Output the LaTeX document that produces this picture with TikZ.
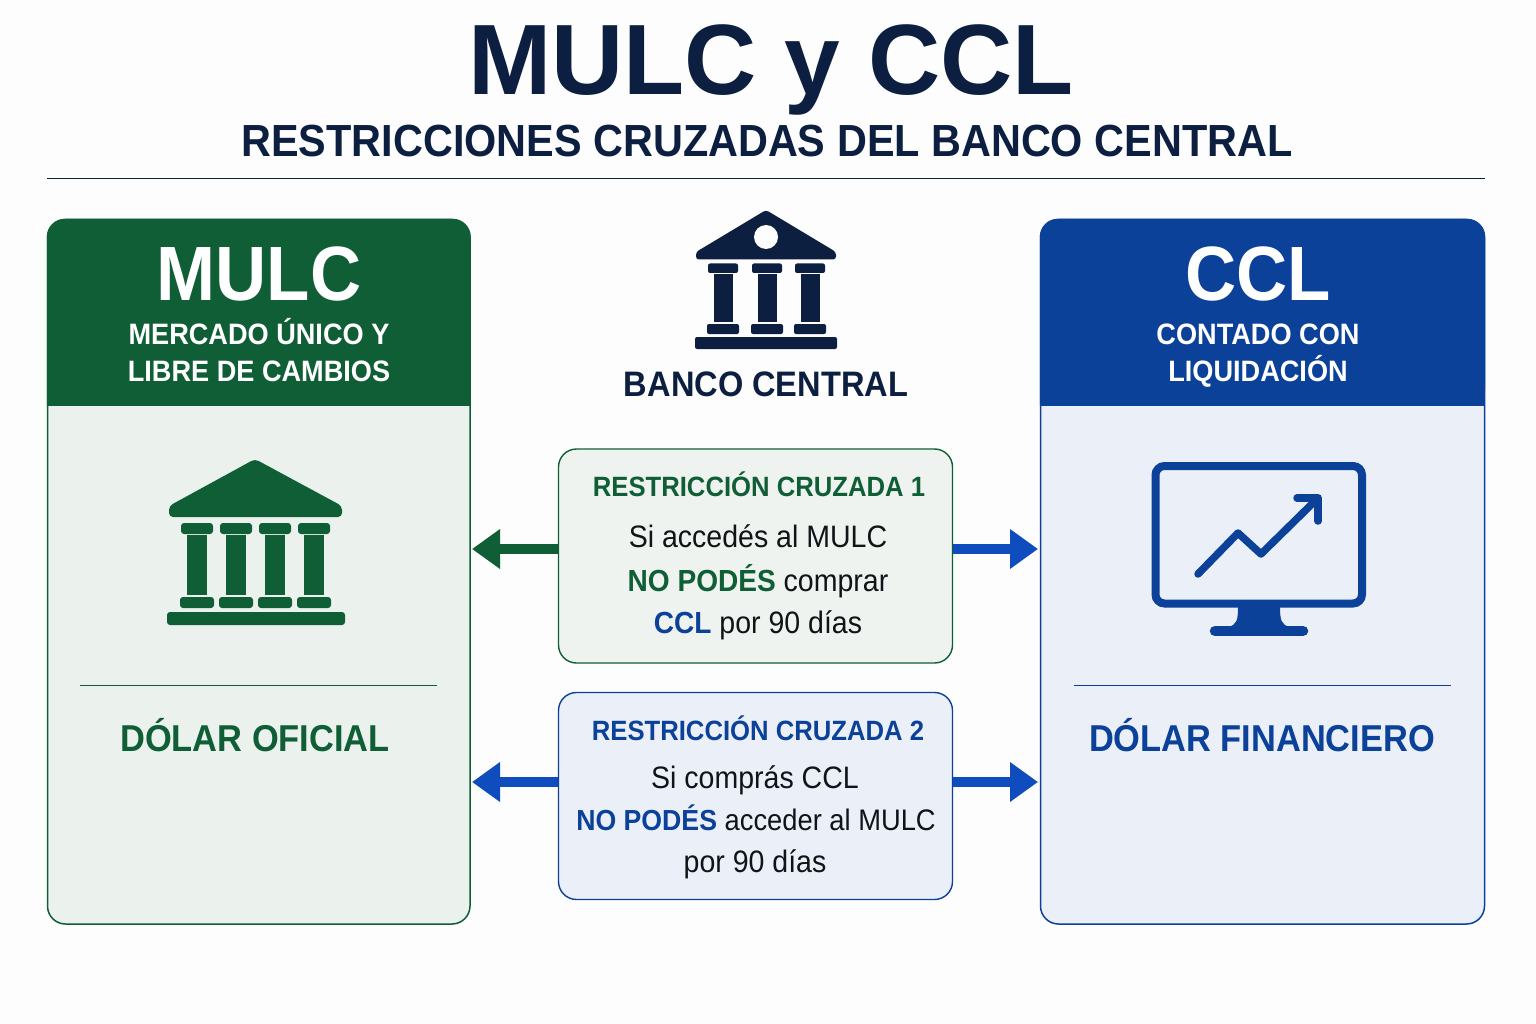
\documentclass[tikz,border=0pt]{standalone}
\usepackage{fontspec}
\setmainfont[FakeStretch=0.92]{Liberation Sans}
\newfontfamily\titlefont{Liberation Sans}
\usetikzlibrary{arrows.meta,calc}
\definecolor{navy}{HTML}{0C1F40}
\definecolor{grn}{HTML}{0F5E36}
\definecolor{blu}{HTML}{0B4199}
\definecolor{arrblu}{HTML}{0F4DBE}
\definecolor{grnbg}{HTML}{EBF2EE}
\definecolor{blubg}{HTML}{EAEFF8}
\definecolor{boxg}{HTML}{EEF3EF}
\definecolor{ink}{HTML}{111417}
\definecolor{paper}{HTML}{FDFDFD}
\newcommand{\fs}[1]{\fontsize{#1}{#1}\selectfont}
\newcommand{\bfg}[1]{{\bfseries\color{grn}#1}}
\newcommand{\bfb}[1]{{\bfseries\color{blu}#1}}
\tikzset{
 x=1pt,y=-1pt,
 txt/.style={inner sep=0pt,align=center,anchor=base},
 panelg/.style={draw=grn,line width=1.5pt,fill=grnbg,rounded corners=18pt},
 panelb/.style={draw=blu,line width=1.5pt,fill=blubg,rounded corners=18pt},
 rbox/.style={rounded corners=18pt,line width=1.4pt,minimum width=394pt,inner sep=0pt},
 arrowg/.style={draw=grn,line width=10pt,-{Triangle[length=28pt,width=38pt]}},
 arrowb/.style={draw=arrblu,line width=10pt,-{Triangle[length=28pt,width=38pt]}},
 bodytxt/.style={txt,font=\fs{31},text=ink},
 headtxt/.style={txt,text=white,font=\fs{29.5}\bfseries},
 bigtxt/.style={txt,text=white,font=\fs{77}\bfseries},
 rtitle/.style={txt,font=\fs{27.9}\bfseries},
}
\begin{document}
\begin{tikzpicture}
\useasboundingbox (0,0) rectangle (1536,1024);
\fill[paper] (0,0) rectangle (1536,1024);

% title
\node[txt,text=navy,font=\fs{100}\titlefont\bfseries] (title) at (771,95) {MULC y CCL};
\node[txt,text=navy,font=\fs{45}\bfseries] (subtitle) at (767,157) {RESTRICCIONES CRUZADAS DEL BANCO CENTRAL};
\draw[navy,line width=1.8pt] (47,178.5) -- (1485,178.5);

% left panel
\path[panelg] (47.5,219.5) rectangle (470,924);
\fill[grn,rounded corners=18pt] (46.8,405.5) -- (46.8,218.8) -- (470.7,218.8) -- (470.7,405.5) [sharp corners] -- cycle;
\fill[grn] (46.8,300) rectangle (470.7,405.5);
\node[bigtxt] (mulcT) at (259,300) {MULC};
\node[headtxt] (mulcA) at (259,344) {MERCADO ÚNICO Y};
\node[headtxt] (mulcB) at (259,381) {LIBRE DE CAMBIOS};
\draw[grn,line width=1.8pt] (80,685.5) -- (437,685.5);
\node[txt,text=grn,font=\fs{37.4}\bfseries] (dof) at (255,751) {DÓLAR OFICIAL};

% right panel
\path[panelb] (1040.5,219.5) rectangle (1484.5,924);
\fill[blu,rounded corners=18pt] (1039.8,405.5) -- (1039.8,218.8) -- (1485.2,218.8) -- (1485.2,405.5) [sharp corners] -- cycle;
\fill[blu] (1039.8,300) rectangle (1485.2,405.5);
\node[bigtxt] (cclT) at (1258,300) {CCL};
\node[headtxt] (cclA) at (1258,344) {CONTADO CON};
\node[headtxt] (cclB) at (1258,381) {LIQUIDACIÓN};
\draw[blu,line width=1.8pt] (1074,685.5) -- (1451,685.5);
\node[txt,text=blu,font=\fs{37.4}\bfseries] (dfi) at (1262,751) {DÓLAR FINANCIERO};

% central bank icon
\begin{scope}[navy]
\fill[rounded corners=3pt] (766,210) -- (836,252) -- (836,259.5) -- (696,259.5) -- (696,252) -- cycle;
\fill[paper] (766,237) circle (12);
\foreach \c in {723,767,810}{
 \fill[rounded corners=2pt] (\c-15,263.5) rectangle (\c+15,273);
 \fill (\c-9.5,274.5) rectangle (\c+9.5,321.5);
 \fill[rounded corners=2pt] (\c-16,324) rectangle (\c+16,334);
}
\fill[rounded corners=2pt] (695,337) rectangle (837,349);
\end{scope}
\node[txt,text=navy,font=\fs{35.4}\bfseries] (bc) at (766,396) {BANCO CENTRAL};

% green temple
\begin{scope}[grn]
\fill[rounded corners=4pt] (255,459) -- (342,506) -- (342,517) -- (169,517) -- (169,506) -- cycle;
\foreach \c in {197,236,275,314}{
 \fill[rounded corners=3pt] (\c-16,523) rectangle (\c+16,534);
 \fill (\c-10,535) rectangle (\c+10,595);
 \fill[rounded corners=3pt] (\c-17,597) rectangle (\c+17,608);
}
\fill[rounded corners=3pt] (167,612) rectangle (345,625);
\end{scope}

% monitor
\begin{scope}[blu]
\draw[line width=8pt,rounded corners=9pt] (1155.5,466) rectangle (1362,603.5);
\fill (1238,606) .. controls (1238,620) and (1237,625) .. (1228,627) -- (1290,627) .. controls (1281,625) and (1280,620) .. (1280,606) -- cycle;
\draw[line width=10.5pt,line cap=round] (1215,631) -- (1303,631);
\draw[line width=7.5pt,line cap=round,line join=round] (1198,574) -- (1238,533) -- (1261,554) -- (1316,500);
\draw[line width=7.5pt,line cap=round,line join=round] (1297,498) -- (1318,498) -- (1318,521);
\end{scope}

% restriction boxes
\node[rbox,draw=grn,fill=boxg,minimum height=214pt] (r1) at (755.5,556) {};
\node[rtitle,text=grn] (r1t) at (759,496) {RESTRICCIÓN CRUZADA 1};
\node[bodytxt] (r1a) at (758,547) {Si accedés al MULC};
\node[bodytxt] (r1b) at (758,591) {{\fs{30.5}\bfg{NO PODÉS}} comprar};
\node[bodytxt] (r1c) at (758,633) {{\fs{30.5}\bfb{CCL}} por 90 días};

\node[rbox,draw=blu,fill=blubg,minimum height=207pt] (r2) at (755.5,796) {};
\node[rtitle,text=blu] (r2t) at (758,740) {RESTRICCIÓN CRUZADA 2};
\node[bodytxt] (r2a) at (755,788) {Si comprás CCL};
\node[bodytxt,font=\fs{29.7}] (r2b) at (756,830) {{\fs{29}\bfb{NO PODÉS}} acceder al MULC};
\node[bodytxt] (r2c) at (755,872) {por 90 días};

% arrows
\coordinate (t1l) at (472,549);
\coordinate (t1r) at (1038,549);
\coordinate (t2l) at (472,782);
\coordinate (t2r) at (1038,782);
\draw[arrowg] (r1.west |- t1l) -- (t1l);
\draw[arrowb] (r1.east |- t1r) -- (t1r);
\draw[arrowb] (r2.west |- t2l) -- (t2l);
\draw[arrowb] (r2.east |- t2r) -- (t2r);
\end{tikzpicture}
\end{document}
